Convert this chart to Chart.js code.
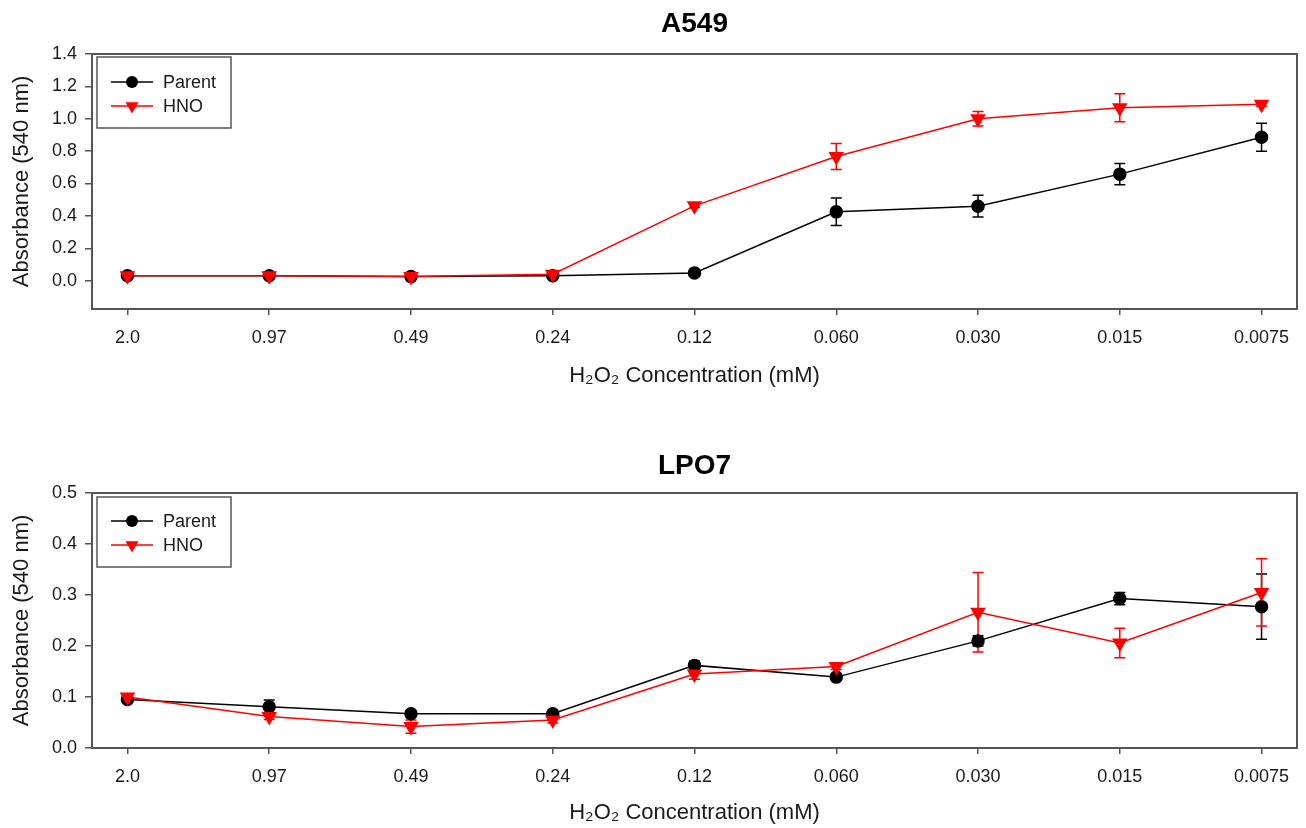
<!DOCTYPE html>
<html>
<head>
<meta charset="utf-8">
<script src="https://cdn.jsdelivr.net/npm/chart.js@4.4.1/dist/chart.umd.min.js"></script>
<style>
  html, body { margin: 0; padding: 0; background: #fff; }
  #wrap { position: relative; width: 1306px; height: 828px; overflow: hidden; }
  #c1 { position: absolute; left: 0; top: 0; }
  #c2 { position: absolute; left: 0; top: 420px; }
</style>
</head>
<body>
<div id="wrap">
  <canvas id="c1" width="1306" height="400"></canvas>
  <canvas id="c2" width="1306" height="408"></canvas>
</div>
<script>
// ---------------- DATA ----------------
const categories = ['2.0', '0.97', '0.49', '0.24', '0.12', '0.060', '0.030', '0.015', '0.0075'];

const a549Parent    = [0.030, 0.030, 0.025, 0.030, 0.048, 0.425, 0.460, 0.658, 0.886];
const a549ParentErr = [0.004, 0.004, 0.004, 0.004, 0.005, 0.085, 0.067, 0.066, 0.087];
const a549Hno       = [0.030, 0.030, 0.025, 0.040, 0.462, 0.767, 1.000, 1.068, 1.089];
const a549HnoErr    = [0.004, 0.004, 0.004, 0.008, 0.010, 0.080, 0.045, 0.087, 0.012];

const lpo7Parent    = [0.095, 0.081, 0.067, 0.067, 0.162, 0.139, 0.210, 0.293, 0.277];
const lpo7ParentErr = [0.005, 0.013, 0.006, 0.005, 0.008, 0.005, 0.010, 0.012, 0.064];
const lpo7Hno       = [0.100, 0.062, 0.042, 0.055, 0.145, 0.160, 0.266, 0.206, 0.305];
const lpo7HnoErr    = [0.005, 0.006, 0.013, 0.006, 0.010, 0.006, 0.078, 0.029, 0.066];

const a549YTicks = [0.0, 0.2, 0.4, 0.6, 0.8, 1.0, 1.2, 1.4];
const lpo7YTicks = [0.0, 0.1, 0.2, 0.3, 0.4, 0.5];

const seriesNames = ['Parent', 'HNO'];
const titles = ['A549', 'LPO7'];
const yTitle = 'Absorbance (540 nm)';
const xTitle = 'H\u2082O\u2082 Concentration (mM)';

// ---------------- STYLE ----------------
const FONT = '"Liberation Sans", Arial, Helvetica, sans-serif';
const TEXT = '#1a1a1a';
const AXIS = '#555555';
const PARENT_COLOR = '#000000';
const HNO_COLOR = '#ff0000';

function toPoints(vals) { return vals.map((v, i) => ({ x: i, y: v })); }

function drawMarker(ctx, style, x, y, r, color) {
  ctx.save();
  ctx.fillStyle = color;
  ctx.beginPath();
  if (style === 'circle') {
    ctx.arc(x, y, r, 0, Math.PI * 2);
  } else {
    for (let k = 0; k < 3; k++) {
      const a = Math.PI + k * 2 * Math.PI / 3;
      const px = x + Math.sin(a) * r, py = y - Math.cos(a) * r;
      if (k === 0) ctx.moveTo(px, py); else ctx.lineTo(px, py);
    }
    ctx.closePath();
  }
  ctx.fill();
  ctx.restore();
}

const errorBarPlugin = {
  id: 'errorBars',
  beforeDatasetsDraw(chart) {
    const ctx = chart.ctx;
    const xs = chart.scales.x, ys = chart.scales.y;
    chart.data.datasets.forEach((ds) => {
      const errs = ds.errors || [];
      ctx.save();
      ctx.strokeStyle = ds.borderColor;
      ctx.lineWidth = 1.5;
      ds.data.forEach((p, i) => {
        const e = errs[i];
        if (!e) return;
        const x = xs.getPixelForValue(p.x);
        const yt = ys.getPixelForValue(p.y + e);
        const yb = ys.getPixelForValue(p.y - e);
        ctx.beginPath();
        ctx.moveTo(x, yt); ctx.lineTo(x, yb);
        ctx.moveTo(x - 5.5, yt); ctx.lineTo(x + 5.5, yt);
        ctx.moveTo(x - 5.5, yb); ctx.lineTo(x + 5.5, yb);
        ctx.stroke();
      });
      ctx.restore();
    });
  }
};

const framePlugin = {
  id: 'frame',
  afterDraw(chart, args, opts) {
    const a = chart.chartArea, ctx = chart.ctx;
    ctx.save();
    ctx.strokeStyle = AXIS;
    ctx.lineWidth = 2;
    ctx.strokeRect(a.left, a.top, a.right - a.left, a.bottom - a.top);
    // panel title centred over the plot area
    ctx.fillStyle = '#000';
    ctx.font = 'bold 28px ' + FONT;
    ctx.textAlign = 'center';
    ctx.textBaseline = 'middle';
    ctx.fillText(opts.text, (a.left + a.right) / 2, opts.y);
    ctx.restore();
  }
};

const boxLegendPlugin = {
  id: 'boxLegend',
  afterDraw(chart, args, opts) {
    const a = chart.chartArea, ctx = chart.ctx;
    const bx = a.left + 5, by = a.top + (opts.dy || 3), bw = 134, bh = opts.h || 71;
    ctx.save();
    ctx.fillStyle = '#ffffff';
    ctx.fillRect(bx, by, bw, bh);
    ctx.strokeStyle = AXIS;
    ctx.lineWidth = 1.5;
    ctx.strokeRect(bx, by, bw, bh);
    const rows = [a.top + (opts.row1 || 28), a.top + (opts.row2 || 52)];
    chart.data.datasets.forEach((ds, i) => {
      const y = rows[i];
      ctx.strokeStyle = ds.borderColor;
      ctx.lineWidth = 1.5;
      ctx.beginPath();
      ctx.moveTo(a.left + 19, y); ctx.lineTo(a.left + 61, y);
      ctx.stroke();
      drawMarker(ctx, ds.pointStyle === 'circle' ? 'circle' : 'triangle', a.left + 40, y, ds.pointRadius, ds.borderColor);
      ctx.fillStyle = TEXT;
      ctx.font = '18px ' + FONT;
      ctx.textBaseline = 'middle';
      ctx.textAlign = 'left';
      ctx.fillText(ds.label, a.left + 71, y + 1);
    });
    ctx.restore();
  }
};

function makeChart(canvasId, title, parent, parentErr, hno, hnoErr, yMin, yMax, yTicks, lay) {
  return new Chart(document.getElementById(canvasId), {
    type: 'line',
    data: {
      datasets: [
        {
          label: seriesNames[0], data: toPoints(parent), errors: parentErr,
          borderColor: PARENT_COLOR, backgroundColor: PARENT_COLOR,
          borderWidth: 1.5, pointStyle: 'circle', pointRadius: 6, pointHoverRadius: 6,
          order: 2, tension: 0
        },
        {
          label: seriesNames[1], data: toPoints(hno), errors: hnoErr,
          borderColor: HNO_COLOR, backgroundColor: HNO_COLOR,
          borderWidth: 1.5, pointStyle: 'triangle', pointRotation: 180, pointRadius: 7.5, pointHoverRadius: 7.5,
          order: 1, tension: 0
        }
      ]
    },
    options: {
      responsive: false,
      animation: false,
      devicePixelRatio: 1,
      layout: { padding: { left: 0, right: 8, top: lay.top, bottom: 0 } },
      plugins: {
        legend: { display: false },
        tooltip: { enabled: false },
        title: { display: false },
        frame: { text: title, y: lay.titleY },
        boxLegend: lay.legend
      },
      scales: {
        x: {
          type: 'linear', min: -0.25, max: 8.25,
          afterBuildTicks: (s) => { s.ticks = categories.map((c, i) => ({ value: i })); },
          afterFit: (s) => { s.height = lay.xHeight; },
          ticks: {
            callback: (v) => categories[v], autoSkip: false, maxRotation: 0,
            color: TEXT, padding: 12, font: { family: FONT, size: 18 }
          },
          grid: { drawOnChartArea: false, drawTicks: true, tickLength: 6, color: AXIS, lineWidth: 1.5 },
          border: { display: false },
          title: {
            display: true, text: xTitle, color: TEXT,
            font: { family: FONT, size: 22, lineHeight: 1.2 },
            padding: { top: 0, bottom: lay.xTitleBottom }
          }
        },
        y: {
          type: 'linear', min: yMin, max: yMax,
          afterBuildTicks: (s) => { s.ticks = yTicks.map(v => ({ value: v })); },
          afterFit: (s) => { s.width = 92; },
          ticks: {
            callback: (v) => Number(v).toFixed(1),
            color: TEXT, padding: 8, font: { family: FONT, size: 18 }
          },
          grid: { drawOnChartArea: false, drawTicks: true, tickLength: 7, color: AXIS, lineWidth: 1.5 },
          border: { display: false },
          title: {
            display: true, text: yTitle, color: TEXT,
            font: { family: FONT, size: 22, lineHeight: 1.2 },
            padding: { top: 9, bottom: 0 }
          }
        }
      }
    },
    plugins: [errorBarPlugin, framePlugin, boxLegendPlugin]
  });
}

makeChart('c1', titles[0], a549Parent, a549ParentErr, a549Hno, a549HnoErr, -0.175, 1.4, a549YTicks,
  { top: 54, titleY: 24, xHeight: 91, xTitleBottom: 11, legend: { dy: 3, h: 71, row1: 28, row2: 52 } });
makeChart('c2', titles[1], lpo7Parent, lpo7ParentErr, lpo7Hno, lpo7HnoErr, 0, 0.5, lpo7YTicks,
  { top: 73, titleY: 46, xHeight: 80, xTitleBottom: 2, legend: { dy: 4, h: 70, row1: 28, row2: 52 } });
</script>
</body>
</html>
